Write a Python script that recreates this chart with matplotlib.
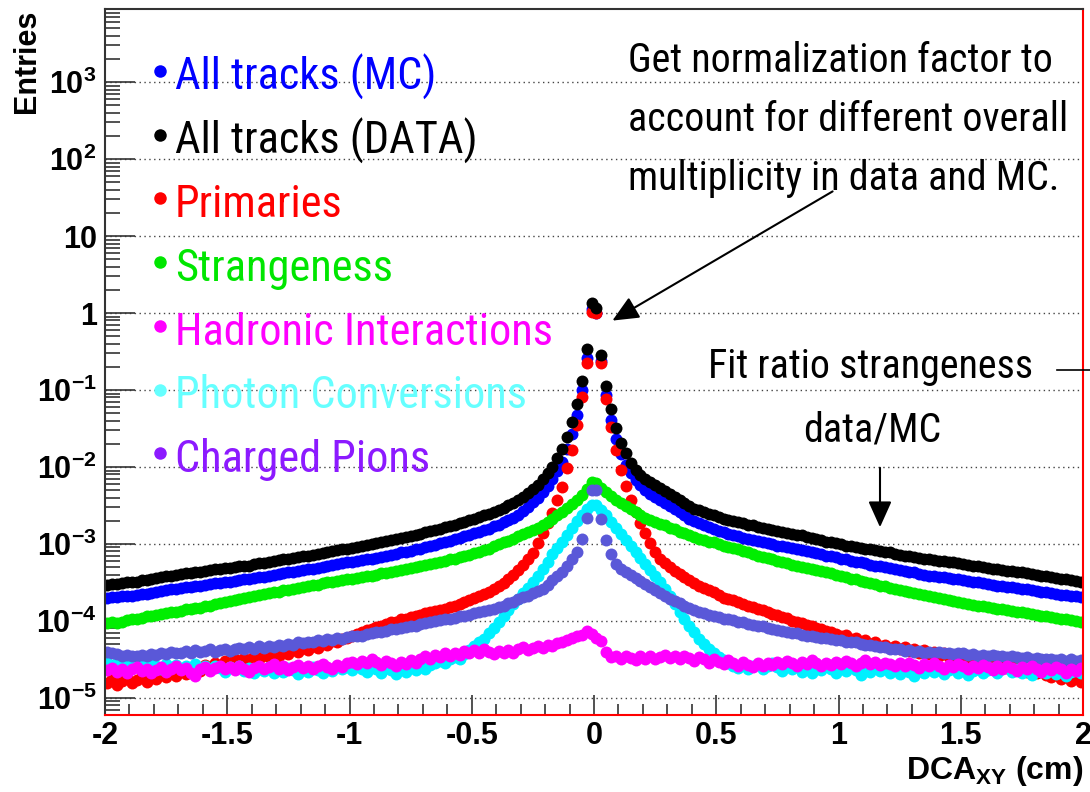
import numpy as np
import matplotlib
matplotlib.use("Agg")
import matplotlib.pyplot as plt
from matplotlib import font_manager
from matplotlib.font_manager import FontProperties
from matplotlib.ticker import FixedLocator, FixedFormatter, LogLocator, NullFormatter, MultipleLocator
from matplotlib.patches import FancyArrowPatch
from matplotlib.lines import Line2D

# DCA_xy histograms, 200 bins of 0.02 cm between -2 and 2 (log10 of entries)
bin_edges = np.linspace(-2.0, 2.0, 201)

data_all_log = [
    -3.53, -3.52, -3.52, -3.51, -3.50, -3.49, -3.49, -3.47, -3.47, -3.46,
    -3.44, -3.43, -3.41, -3.41, -3.40, -3.39, -3.38, -3.38, -3.36, -3.36,
    -3.35, -3.34, -3.33, -3.33, -3.31, -3.31, -3.30, -3.29, -3.28, -3.28,
    -3.26, -3.25, -3.25, -3.23, -3.22, -3.21, -3.20, -3.19, -3.18, -3.17,
    -3.16, -3.15, -3.14, -3.13, -3.12, -3.10, -3.09, -3.08, -3.07, -3.06,
    -3.05, -3.04, -3.02, -3.01, -3.00, -2.99, -2.98, -2.96, -2.95, -2.94,
    -2.92, -2.91, -2.90, -2.88, -2.87, -2.85, -2.83, -2.82, -2.80, -2.78,
    -2.77, -2.75, -2.73, -2.71, -2.69, -2.67, -2.65, -2.63, -2.61, -2.58,
    -2.56, -2.53, -2.50, -2.47, -2.43, -2.39, -2.34, -2.29, -2.23, -2.16,
    -2.08, -2.00, -1.88, -1.77, -1.61, -1.42, -1.18, -0.88, -0.47, 0.13,
    0.07, -0.55, -0.95, -1.25, -1.49, -1.69, -1.82, -1.95, -2.04, -2.10,
    -2.15, -2.19, -2.23, -2.27, -2.31, -2.35, -2.39, -2.43, -2.47, -2.51,
    -2.54, -2.56, -2.59, -2.61, -2.63, -2.65, -2.67, -2.69, -2.70, -2.72,
    -2.73, -2.75, -2.76, -2.78, -2.79, -2.80, -2.82, -2.83, -2.84, -2.86,
    -2.87, -2.88, -2.89, -2.91, -2.92, -2.94, -2.95, -2.97, -2.98, -2.99,
    -3.00, -3.02, -3.03, -3.04, -3.05, -3.06, -3.07, -3.08, -3.09, -3.10,
    -3.11, -3.13, -3.14, -3.15, -3.16, -3.17, -3.18, -3.19, -3.20, -3.21,
    -3.22, -3.22, -3.23, -3.24, -3.25, -3.26, -3.27, -3.28, -3.29, -3.30,
    -3.31, -3.32, -3.33, -3.34, -3.35, -3.35, -3.36, -3.37, -3.38, -3.39,
    -3.40, -3.41, -3.42, -3.43, -3.44, -3.45, -3.46, -3.47, -3.48, -3.49,
]

mc_all_log = [
    -3.70, -3.69, -3.69, -3.68, -3.68, -3.67, -3.66, -3.65, -3.65, -3.64,
    -3.62, -3.61, -3.60, -3.59, -3.58, -3.57, -3.56, -3.56, -3.54, -3.54,
    -3.53, -3.52, -3.51, -3.51, -3.49, -3.49, -3.48, -3.47, -3.46, -3.46,
    -3.44, -3.43, -3.43, -3.41, -3.40, -3.39, -3.38, -3.37, -3.36, -3.35,
    -3.34, -3.33, -3.32, -3.31, -3.30, -3.28, -3.27, -3.26, -3.25, -3.24,
    -3.23, -3.22, -3.21, -3.20, -3.19, -3.18, -3.17, -3.15, -3.14, -3.13,
    -3.11, -3.10, -3.09, -3.07, -3.06, -3.04, -3.02, -3.01, -2.99, -2.97,
    -2.96, -2.94, -2.92, -2.90, -2.88, -2.86, -2.84, -2.82, -2.80, -2.77,
    -2.75, -2.72, -2.69, -2.66, -2.62, -2.57, -2.52, -2.46, -2.40, -2.33,
    -2.25, -2.16, -2.05, -1.93, -1.77, -1.57, -1.32, -1.00, -0.58, 0.05,
    0.00, -0.62, -1.06, -1.39, -1.63, -1.83, -1.97, -2.08, -2.17, -2.24,
    -2.30, -2.35, -2.39, -2.43, -2.47, -2.51, -2.55, -2.59, -2.63, -2.67,
    -2.70, -2.73, -2.76, -2.78, -2.80, -2.83, -2.85, -2.87, -2.88, -2.90,
    -2.92, -2.93, -2.95, -2.96, -2.98, -2.99, -3.00, -3.02, -3.03, -3.04,
    -3.05, -3.07, -3.08, -3.09, -3.10, -3.12, -3.13, -3.15, -3.16, -3.17,
    -3.19, -3.20, -3.22, -3.23, -3.24, -3.25, -3.27, -3.28, -3.29, -3.30,
    -3.31, -3.33, -3.34, -3.35, -3.36, -3.37, -3.39, -3.40, -3.41, -3.42,
    -3.43, -3.43, -3.44, -3.45, -3.46, -3.47, -3.48, -3.49, -3.50, -3.51,
    -3.52, -3.53, -3.54, -3.55, -3.56, -3.56, -3.57, -3.58, -3.59, -3.60,
    -3.61, -3.62, -3.63, -3.64, -3.65, -3.66, -3.66, -3.67, -3.68, -3.69,
]

primaries_log = [
    -4.80, -4.76, -4.83, -4.78, -4.74, -4.81, -4.77, -4.72, -4.79, -4.70,
    -4.75, -4.68, -4.73, -4.66, -4.71, -4.64, -4.69, -4.62, -4.58, -4.65,
    -4.57, -4.61, -4.54, -4.59, -4.52, -4.56, -4.50, -4.54, -4.48, -4.52,
    -4.46, -4.50, -4.44, -4.47, -4.41, -4.45, -4.39, -4.43, -4.37, -4.40,
    -4.35, -4.38, -4.32, -4.35, -4.29, -4.31, -4.26, -4.28, -4.24, -4.22,
    -4.19, -4.17, -4.15, -4.12, -4.10, -4.08, -4.07, -4.04, -4.02, -4.01,
    -3.98, -3.97, -3.95, -3.94, -3.92, -3.90, -3.89, -3.87, -3.86, -3.84,
    -3.82, -3.80, -3.78, -3.76, -3.73, -3.70, -3.68, -3.65, -3.62, -3.59,
    -3.55, -3.51, -3.46, -3.40, -3.34, -3.27, -3.20, -3.12, -2.99, -2.86,
    -2.73, -2.60, -2.43, -2.26, -2.01, -1.78, -1.45, -1.09, -0.65, 0.01,
    0.00, -0.65, -1.12, -1.48, -1.78, -2.04, -2.25, -2.43, -2.58, -2.73,
    -2.86, -2.99, -3.10, -3.19, -3.25, -3.30, -3.35, -3.39, -3.43, -3.47,
    -3.51, -3.54, -3.57, -3.60, -3.63, -3.66, -3.70, -3.72, -3.73, -3.76,
    -3.78, -3.80, -3.82, -3.85, -3.86, -3.88, -3.91, -3.92, -3.95, -3.96,
    -4.00, -4.01, -4.03, -4.05, -4.07, -4.09, -4.11, -4.13, -4.15, -4.17,
    -4.19, -4.18, -4.24, -4.22, -4.27, -4.25, -4.30, -4.28, -4.33, -4.31,
    -4.35, -4.33, -4.37, -4.34, -4.39, -4.36, -4.41, -4.38, -4.43, -4.40,
    -4.45, -4.42, -4.47, -4.44, -4.49, -4.46, -4.51, -4.48, -4.54, -4.50,
    -4.56, -4.53, -4.58, -4.55, -4.61, -4.57, -4.63, -4.60, -4.66, -4.62,
    -4.68, -4.64, -4.70, -4.73, -4.66, -4.75, -4.71, -4.78, -4.74, -4.79,
]

strangeness_log = [
    -4.03, -4.02, -4.03, -4.01, -3.99, -3.98, -3.97, -3.96, -3.94, -3.94,
    -3.92, -3.91, -3.90, -3.88, -3.88, -3.87, -3.85, -3.84, -3.83, -3.83,
    -3.81, -3.80, -3.78, -3.77, -3.76, -3.74, -3.73, -3.72, -3.70, -3.69,
    -3.68, -3.66, -3.65, -3.64, -3.63, -3.62, -3.60, -3.60, -3.58, -3.57,
    -3.56, -3.55, -3.53, -3.53, -3.51, -3.50, -3.49, -3.48, -3.47, -3.46,
    -3.45, -3.44, -3.43, -3.42, -3.41, -3.40, -3.38, -3.38, -3.36, -3.35,
    -3.34, -3.33, -3.31, -3.30, -3.29, -3.27, -3.26, -3.25, -3.23, -3.22,
    -3.20, -3.19, -3.17, -3.15, -3.14, -3.12, -3.10, -3.08, -3.06, -3.03,
    -3.00, -2.98, -2.96, -2.93, -2.90, -2.87, -2.84, -2.82, -2.79, -2.76,
    -2.72, -2.67, -2.63, -2.59, -2.53, -2.48, -2.43, -2.36, -2.29, -2.20,
    -2.21, -2.27, -2.33, -2.38, -2.43, -2.47, -2.51, -2.55, -2.59, -2.63,
    -2.66, -2.69, -2.72, -2.74, -2.76, -2.79, -2.81, -2.84, -2.86, -2.89,
    -2.91, -2.93, -2.95, -2.97, -2.98, -3.00, -3.02, -3.04, -3.05, -3.07,
    -3.09, -3.11, -3.13, -3.15, -3.17, -3.18, -3.20, -3.22, -3.23, -3.25,
    -3.27, -3.28, -3.30, -3.31, -3.33, -3.34, -3.35, -3.37, -3.38, -3.40,
    -3.42, -3.43, -3.45, -3.46, -3.48, -3.49, -3.51, -3.52, -3.54, -3.55,
    -3.57, -3.58, -3.60, -3.61, -3.62, -3.64, -3.65, -3.66, -3.68, -3.69,
    -3.70, -3.72, -3.73, -3.74, -3.76, -3.77, -3.78, -3.79, -3.80, -3.81,
    -3.82, -3.83, -3.84, -3.85, -3.86, -3.87, -3.88, -3.89, -3.90, -3.91,
    -3.92, -3.93, -3.94, -3.95, -3.96, -3.97, -3.98, -3.99, -4.00, -4.01,
]

hadronic_log = [
    -4.64, -4.61, -4.66, -4.62, -4.67, -4.63, -4.60, -4.65, -4.62, -4.68,
    -4.64, -4.60, -4.66, -4.62, -4.59, -4.64, -4.61, -4.67, -4.72, -4.63,
    -4.60, -4.65, -4.61, -4.58, -4.63, -4.60, -4.64, -4.59, -4.62, -4.66,
    -4.61, -4.58, -4.63, -4.60, -4.56, -4.62, -4.59, -4.64, -4.60, -4.57,
    -4.61, -4.58, -4.63, -4.59, -4.56, -4.60, -4.62, -4.57, -4.60, -4.55,
    -4.53, -4.56, -4.52, -4.55, -4.50, -4.53, -4.57, -4.52, -4.55, -4.58,
    -4.53, -4.56, -4.51, -4.54, -4.49, -4.46, -4.50, -4.44, -4.47, -4.42,
    -4.45, -4.41, -4.44, -4.39, -4.42, -4.38, -4.41, -4.37, -4.40, -4.43,
    -4.39, -4.42, -4.38, -4.41, -4.37, -4.34, -4.38, -4.35, -4.32, -4.35,
    -4.31, -4.33, -4.29, -4.27, -4.25, -4.22, -4.20, -4.18, -4.13, -4.17,
    -4.22, -4.26, -4.40, -4.47, -4.46, -4.49, -4.45, -4.48, -4.51, -4.46,
    -4.49, -4.45, -4.50, -4.47, -4.44, -4.48, -4.46, -4.50, -4.45, -4.48,
    -4.52, -4.47, -4.50, -4.54, -4.49, -4.53, -4.56, -4.51, -4.55, -4.58,
    -4.53, -4.57, -4.60, -4.55, -4.58, -4.54, -4.57, -4.53, -4.56, -4.52,
    -4.55, -4.58, -4.53, -4.56, -4.51, -4.55, -4.58, -4.54, -4.57, -4.53,
    -4.56, -4.52, -4.55, -4.58, -4.54, -4.51, -4.56, -4.53, -4.57, -4.54,
    -4.56, -4.59, -4.55, -4.58, -4.54, -4.57, -4.61, -4.56, -4.59, -4.55,
    -4.58, -4.62, -4.57, -4.60, -4.56, -4.59, -4.63, -4.58, -4.61, -4.57,
    -4.60, -4.64, -4.59, -4.62, -4.58, -4.61, -4.65, -4.60, -4.63, -4.59,
    -4.62, -4.66, -4.61, -4.64, -4.60, -4.63, -4.67, -4.62, -4.65, -4.61,
]

photon_log = [
    -4.55, -4.58, -4.54, -4.60, -4.57, -4.53, -4.59, -4.56, -4.61, -4.55,
    -4.58, -4.62, -4.56, -4.60, -4.57, -4.63, -4.58, -4.61, -4.56, -4.62,
    -4.59, -4.64, -4.58, -4.61, -4.66, -4.60, -4.63, -4.58, -4.65, -4.61,
    -4.67, -4.62, -4.65, -4.60, -4.68, -4.63, -4.66, -4.61, -4.64, -4.69,
    -4.62, -4.66, -4.60, -4.64, -4.67, -4.61, -4.65, -4.59, -4.63, -4.60,
    -4.64, -4.58, -4.62, -4.66, -4.60, -4.63, -4.67, -4.61, -4.64, -4.69,
    -4.63, -4.66, -4.60, -4.64, -4.58, -4.62, -4.57, -4.55, -4.52, -4.54,
    -4.50, -4.47, -4.49, -4.43, -4.38, -4.33, -4.28, -4.23, -4.16, -4.09,
    -4.02, -3.94, -3.86, -3.78, -3.71, -3.64, -3.57, -3.50, -3.42, -3.33,
    -3.23, -3.13, -3.05, -2.97, -2.88, -2.79, -2.70, -2.62, -2.55, -2.49,
    -2.50, -2.56, -2.63, -2.71, -2.79, -2.87, -2.95, -3.03, -3.10, -3.18,
    -3.26, -3.34, -3.42, -3.50, -3.59, -3.68, -3.78, -3.88, -3.98, -4.07,
    -4.15, -4.23, -4.30, -4.37, -4.42, -4.47, -4.51, -4.55, -4.58, -4.61,
    -4.57, -4.63, -4.59, -4.56, -4.62, -4.58, -4.54, -4.60, -4.65, -4.57,
    -4.62, -4.59, -4.66, -4.60, -4.68, -4.61, -4.64, -4.58, -4.63, -4.67,
    -4.61, -4.65, -4.59, -4.64, -4.70, -4.62, -4.66, -4.60, -4.65, -4.61,
    -4.67, -4.63, -4.69, -4.62, -4.66, -4.72, -4.64, -4.68, -4.62, -4.66,
    -4.63, -4.69, -4.64, -4.61, -4.67, -4.63, -4.70, -4.65, -4.62, -4.68,
    -4.64, -4.61, -4.67, -4.63, -4.60, -4.66, -4.62, -4.68, -4.64, -4.70,
    -4.65, -4.61, -4.67, -4.63, -4.69, -4.64, -4.71, -4.66, -4.62, -4.68,
]

pions_log = [
    -4.40, -4.42, -4.43, -4.45, -4.44, -4.46, -4.45, -4.44, -4.45, -4.43,
    -4.44, -4.42, -4.43, -4.40, -4.42, -4.41, -4.39, -4.41, -4.38, -4.40,
    -4.39, -4.37, -4.40, -4.38, -4.36, -4.39, -4.37, -4.35, -4.37, -4.34,
    -4.36, -4.33, -4.35, -4.32, -4.34, -4.31, -4.33, -4.30, -4.31, -4.28,
    -4.29, -4.27, -4.28, -4.25, -4.26, -4.24, -4.25, -4.22, -4.23, -4.21,
    -4.20, -4.19, -4.19, -4.17, -4.16, -4.15, -4.15, -4.13, -4.11, -4.11,
    -4.09, -4.08, -4.07, -4.06, -4.04, -4.03, -4.02, -4.00, -3.99, -3.98,
    -3.97, -3.96, -3.94, -3.93, -3.92, -3.90, -3.89, -3.87, -3.86, -3.84,
    -3.82, -3.80, -3.77, -3.75, -3.72, -3.69, -3.67, -3.64, -3.61, -3.58,
    -3.53, -3.47, -3.42, -3.37, -3.29, -3.20, -3.11, -2.93, -2.66, -2.30,
    -2.30, -2.68, -2.95, -3.13, -3.26, -3.32, -3.36, -3.40, -3.44, -3.48,
    -3.52, -3.56, -3.60, -3.64, -3.67, -3.71, -3.74, -3.77, -3.80, -3.83,
    -3.86, -3.88, -3.90, -3.92, -3.93, -3.95, -3.97, -3.98, -3.99, -4.01,
    -4.02, -4.04, -4.05, -4.07, -4.07, -4.09, -4.10, -4.12, -4.13, -4.14,
    -4.16, -4.16, -4.18, -4.19, -4.19, -4.21, -4.22, -4.22, -4.24, -4.25,
    -4.25, -4.27, -4.28, -4.28, -4.30, -4.31, -4.31, -4.33, -4.34, -4.34,
    -4.36, -4.37, -4.37, -4.39, -4.38, -4.40, -4.39, -4.41, -4.40, -4.41,
    -4.40, -4.42, -4.41, -4.43, -4.42, -4.42, -4.44, -4.43, -4.45, -4.44,
    -4.45, -4.44, -4.46, -4.45, -4.47, -4.46, -4.47, -4.48, -4.47, -4.49,
    -4.48, -4.49, -4.50, -4.49, -4.51, -4.50, -4.52, -4.50, -4.52, -4.51,
]

legend_labels = ["All tracks (MC)", "All tracks (DATA)", "Primaries", "Strangeness",
                 "Hadronic Interactions", "Photon Conversions", "Charged Pions"]
legend_colors = ["#0000ff", "#000000", "#ff0000", "#00e600", "#ff00ff", "#66ffff", "#8c1aff"]

y_decades = [1e-5, 1e-4, 1e-3, 1e-2, 1e-1, 1, 10, 1e2, 1e3]
y_labels = [r"$\mathbf{10^{-5}}$", r"$\mathbf{10^{-4}}$", r"$\mathbf{10^{-3}}$", r"$\mathbf{10^{-2}}$",
            r"$\mathbf{10^{-1}}$", "1", "10", r"$\mathbf{10^{2}}$", r"$\mathbf{10^{3}}$"]
x_ticks = [-2, -1.5, -1, -0.5, 0, 0.5, 1, 1.5, 2]
x_labels = ["-2", "-1.5", "-1", "-0.5", "0", "0.5", "1", "1.5", "2"]


def narrow_font():
    # a condensed sans if one is installed, else Roboto (widths are fitted below anyway)
    regular = [f for f in font_manager.fontManager.ttflist
               if f.style == "normal" and f.weight in (400, "normal", "regular", "book")]
    for want in ["Liberation Sans Narrow", "Noto Sans Condensed", "Roboto Condensed",
                 "Open Sans Condensed", "DejaVu Sans Condensed"]:
        for f in regular:
            if f.name == want:
                return FontProperties(fname=f.fname)
    for f in regular:
        if str(f.stretch) in ("condensed", "semi-condensed") and "Mono" not in f.name \
                and "CJK" not in f.name and "Serif" not in f.name:
            return FontProperties(fname=f.fname)
    return FontProperties(family="Roboto")


plt.rcParams["axes.unicode_minus"] = False
plt.rcParams["mathtext.fontset"] = "custom"
plt.rcParams["mathtext.rm"] = "Liberation Sans"
plt.rcParams["mathtext.bf"] = "Liberation Sans:bold"
plt.rcParams["mathtext.it"] = "Liberation Sans:italic"

W, H = 1090, 792


def fx(px):
    return px / W


def fy(py):
    return 1 - py / H


fig = plt.figure(figsize=(W / 100, H / 100), dpi=100)
ax = fig.add_axes([fx(105), 77 / H, (1083 - 105) / W, (715 - 9) / H])

centers = 0.5 * (bin_edges[:-1] + bin_edges[1:])
series = [
    (mc_all_log, "#0000ff"),
    (primaries_log, "#ff0000"),
    (data_all_log, "#000000"),
    (strangeness_log, "#00ee00"),
    (photon_log, "#00f0ff"),
    (pions_log, "#5a58d8"),
    (hadronic_log, "#ff00ff"),
]
for vals, col in series:
    ax.plot(centers, 10 ** np.array(vals), linestyle="none", marker="o",
            markersize=8.6, markeredgewidth=0, color=col)

ax.set_yscale("log")
ax.set_xlim(-2, 2)
ax.set_ylim(6.0e-6, 8.9e3)

ax.yaxis.set_major_locator(FixedLocator(y_decades))
ax.yaxis.set_major_formatter(FixedFormatter(y_labels))
ax.yaxis.set_minor_locator(LogLocator(base=10, subs=np.arange(2, 10), numticks=30))
ax.yaxis.set_minor_formatter(NullFormatter())
ax.xaxis.set_major_locator(FixedLocator(x_ticks))
ax.xaxis.set_major_formatter(FixedFormatter(x_labels))
ax.xaxis.set_minor_locator(MultipleLocator(0.1))

ax.tick_params(axis="y", which="major", direction="in", length=21.6, width=1.2,
               color="#333333", pad=6, labelsize=22)
ax.tick_params(axis="y", which="minor", direction="in", length=10.8, width=1.2, color="#333333")
ax.tick_params(axis="x", which="major", direction="in", length=14.4, width=1.2,
               color="#333333", pad=4.5, labelsize=22)
ax.tick_params(axis="x", which="minor", direction="in", length=8, width=1.2, color="#333333")
for lab in ax.get_xticklabels() + ax.get_yticklabels():
    lab.set_fontfamily("Liberation Sans")
    lab.set_fontweight("bold")

ax.grid(axis="y", which="major", linestyle=(0, (1, 2.5)), color="#444444", linewidth=1)
for side in ["left", "top"]:
    ax.spines[side].set_color("#333333")
    ax.spines[side].set_linewidth(1.5)
for side in ["bottom", "right"]:
    ax.spines[side].set_color("#ff0000")
    ax.spines[side].set_linewidth(1.5)

fig.text(fx(27), fy(10), "Entries", rotation=90, ha="center", va="top",
         fontsize=22, fontweight="bold", family="Liberation Sans")
fig.text(fx(1083), fy(779), r"DCA$_{\mathbf{XY}}$ (cm)", ha="right", va="baseline",
         fontsize=23, fontweight="bold", family="Liberation Sans")

nfont = narrow_font()

# legend written as coloured text rows with a dot in front
legend_texts = []
for k, (lab, col) in enumerate(zip(legend_labels, legend_colors)):
    base = 90 + k * 63.7
    legend_texts.append(fig.text(fx(175), fy(base), lab, color=col, fontproperties=nfont,
                                 fontsize=30, ha="left", va="baseline"))
    fig.add_artist(Line2D([fx(160)], [fy(base - 19)], transform=fig.transFigure,
                          marker="o", markersize=9, markeredgewidth=0, color=col))

note_lines = ["Get normalization factor to", "account for different overall",
              "multiplicity in data and MC."]
note_texts = []
for k, line in enumerate(note_lines):
    note_texts.append(fig.text(fx(628), fy(72 + k * 59), line, fontproperties=nfont,
                               fontsize=30, ha="left", va="baseline", color="black"))
note_texts.append(fig.text(fx(708), fy(378), "Fit ratio strangeness", fontproperties=nfont,
                           fontsize=30, ha="left", va="baseline"))
note_texts.append(fig.text(fx(872), fy(442), "data/MC", fontproperties=nfont,
                           fontsize=30, ha="center", va="baseline"))

# size the narrow text so its widths follow the reference
fig.canvas.draw()
renderer = fig.canvas.get_renderer()
for group, ref, target in [(legend_texts, legend_texts[4], 378), (note_texts, note_texts[1], 440)]:
    scale = target / ref.get_window_extent(renderer).width
    for t in group:
        t.set_fontsize(t.get_fontsize() * scale)

fig.add_artist(FancyArrowPatch((fx(835), fy(190)), (fx(610), fy(322)),
                               transform=fig.transFigure,
                               arrowstyle="-|>,head_length=1.0,head_width=0.45",
                               mutation_scale=16, lw=1.5, color="black"))
fig.add_artist(FancyArrowPatch((fx(880), fy(465)), (fx(880), fy(530)),
                               transform=fig.transFigure,
                               arrowstyle="-|>,head_length=1.0,head_width=0.45",
                               mutation_scale=16, lw=1.5, color="black"))
fig.add_artist(Line2D([fx(1057), fx(1090)], [fy(370), fy(370)],
                      transform=fig.transFigure, color="black", lw=1.2))

fig.savefig("out.png", dpi=100)
